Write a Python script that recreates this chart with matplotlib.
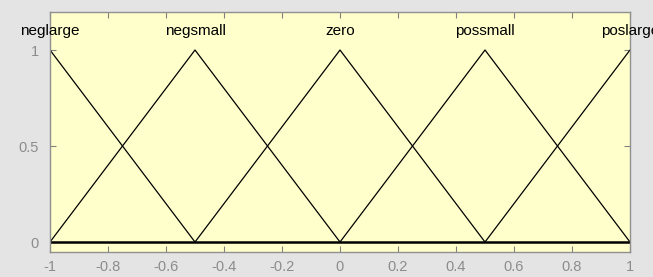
import matplotlib
matplotlib.use('Agg')
import matplotlib.pyplot as plt
import numpy as np

plt.rcParams['font.family'] = ['Liberation Sans', 'DejaVu Sans']

# membership functions (triangles): name, left, peak, right
mf_names = ['neglarge', 'negsmall', 'zero', 'possmall', 'poslarge']
mf_left = [-1.5, -1.0, -0.5, 0.0, 0.5]
mf_peak = [-1.0, -0.5, 0.0, 0.5, 1.0]
mf_right = [-0.5, 0.0, 0.5, 1.0, 1.5]

x_ticks = [-1, -0.8, -0.6, -0.4, -0.2, 0, 0.2, 0.4, 0.6, 0.8, 1]
x_ticklabels = ['-1', '-0.8', '-0.6', '-0.4', '-0.2', '0', '0.2', '0.4', '0.6', '0.8', '1']
y_ticks = [0, 0.5, 1]
y_ticklabels = ['0', '0.5', '1']

fig = plt.figure(figsize=(6.53, 2.77), dpi=100, facecolor='#e4e4e4')
ax = fig.add_axes([50/653, 25/277, 580/653, 240/277])
ax.set_facecolor('#ffffcc')

for name, a, b, c in zip(mf_names, mf_left, mf_peak, mf_right):
    xs = np.array([a, b, c])
    ys = np.array([0, 1, 0])
    ax.plot(xs, ys, color='black', lw=0.9, clip_on=True)
    ax.text(b, 1.10, name, ha='center', va='center', fontsize=11, color='black', clip_on=False)

ax.axhline(0, color='black', lw=1.8)

ax.set_xlim(-1, 1)
ax.set_ylim(-0.052, 1.198)
ax.set_xticks(x_ticks)
ax.set_xticklabels(x_ticklabels)
ax.set_yticks(y_ticks)
ax.set_yticklabels(y_ticklabels)
ax.tick_params(direction='in', length=4, colors='#808080', labelcolor='#8c8c8c',
               labelsize=10.5, top=True, right=True, pad=6)
ax.tick_params(axis='y', pad=8)
for s in ax.spines.values():
    s.set_color('#909090')
    s.set_linewidth(1.0)

fig.savefig('out.png', dpi=100, facecolor=fig.get_facecolor())
